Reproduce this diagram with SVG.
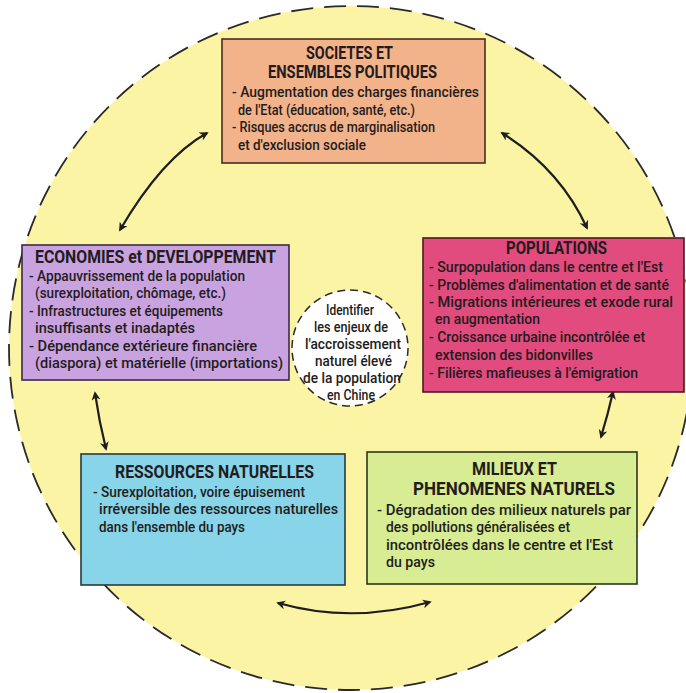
<svg xmlns="http://www.w3.org/2000/svg" width="686" height="693" viewBox="0 0 686 693">
<defs>
<style>
.t{font-family:Roboto,"Liberation Sans",sans-serif;font-size:15px;font-weight:500;fill:#231c1c}
.c{font-family:Roboto,"Liberation Sans",sans-serif;font-size:14.5px;font-weight:500;fill:#231c1c}
.h{font-family:Roboto,"Liberation Sans",sans-serif;font-size:17.5px;font-weight:700;fill:#231c1c}
.box{stroke-width:1.6}
.arr{fill:none;stroke:#1e1e1e;stroke-width:2.2;marker-start:url(#ah);marker-end:url(#ah)}
</style>
<marker id="ah" viewBox="0 0 10 10" refX="8" refY="5" markerWidth="10" markerHeight="9" markerUnits="userSpaceOnUse" orient="auto-start-reverse">
<path d="M0,0 L10,5 L0,10 L3,5 Z" fill="#1e1e1e"/>
</marker>
</defs>
<rect width="686" height="693" fill="#ffffff"/>
<circle id="background-circle" cx="351" cy="348" r="342" fill="#fbf4a4" stroke="#2a2a2a" stroke-width="1.8" stroke-dasharray="22 11"/>

<g id="connectors">
<path class="arr" d="M120,230 Q162,158 207,133"/>
<path class="arr" d="M502,133 Q560,169 587,228"/>
<path class="arr" d="M95,393 Q99,421 106,449"/>
<path class="arr" d="M613,392 Q608,414 601,437"/>
<path class="arr" d="M278,603 Q352,624 430,602"/>
</g>

<g id="societes">
<rect class="box" x="222" y="39" width="263" height="124" fill="#f2b38b" stroke="#4a2e1e"/>
<text class="h" x="306" y="59" textLength="87" lengthAdjust="spacingAndGlyphs">SOCIETES ET</text>
<text class="h" x="268" y="78" textLength="169" lengthAdjust="spacingAndGlyphs">ENSEMBLES POLITIQUES</text>
<text class="t" x="232" y="97" textLength="247" lengthAdjust="spacingAndGlyphs">- Augmentation des charges financières</text>
<text class="t" x="238" y="115" textLength="177" lengthAdjust="spacingAndGlyphs">de l'Etat (éducation, santé, etc.)</text>
<text class="t" x="232" y="132" textLength="203" lengthAdjust="spacingAndGlyphs">- Risques accrus de marginalisation</text>
<text class="t" x="238" y="150" textLength="128" lengthAdjust="spacingAndGlyphs">et d'exclusion sociale</text>
</g>

<g id="economies">
<rect class="box" x="22" y="245" width="267" height="135" fill="#c9a3e0" stroke="#3a2a4a"/>
<text class="h" x="35" y="263" textLength="241" lengthAdjust="spacingAndGlyphs">ECONOMIES et DEVELOPPEMENT</text>
<text class="t" x="29" y="281" textLength="216" lengthAdjust="spacingAndGlyphs">- Appauvrissement de la population</text>
<text class="t" x="35" y="298" textLength="191" lengthAdjust="spacingAndGlyphs">(surexploitation, chômage, etc.)</text>
<text class="t" x="29" y="316" textLength="194" lengthAdjust="spacingAndGlyphs">- Infrastructures et équipements</text>
<text class="t" x="35" y="333" textLength="160" lengthAdjust="spacingAndGlyphs">insuffisants et inadaptés</text>
<text class="t" x="29" y="351" textLength="228" lengthAdjust="spacingAndGlyphs">- Dépendance extérieure financière</text>
<text class="t" x="35" y="368" textLength="248" lengthAdjust="spacingAndGlyphs">(diaspora) et matérielle (importations)</text>
</g>

<g id="populations">
<rect class="box" x="423" y="238" width="261" height="154" fill="#e14b7e" stroke="#4a1a2a"/>
<text class="h" x="506" y="254" textLength="101" lengthAdjust="spacingAndGlyphs">POPULATIONS</text>
<text class="t" x="429" y="272" textLength="234" lengthAdjust="spacingAndGlyphs">- Surpopulation dans le centre et l'Est</text>
<text class="t" x="429" y="290" textLength="240" lengthAdjust="spacingAndGlyphs">- Problèmes d'alimentation et de santé</text>
<text class="t" x="429" y="307" textLength="244" lengthAdjust="spacingAndGlyphs">- Migrations intérieures et exode rural</text>
<text class="t" x="435" y="324" textLength="105" lengthAdjust="spacingAndGlyphs">en augmentation</text>
<text class="t" x="429" y="342" textLength="216" lengthAdjust="spacingAndGlyphs">- Croissance urbaine incontrôlée et</text>
<text class="t" x="435" y="360" textLength="158" lengthAdjust="spacingAndGlyphs">extension des bidonvilles</text>
<text class="t" x="429" y="378" textLength="209" lengthAdjust="spacingAndGlyphs">- Filières mafieuses à l'émigration</text>
</g>

<g id="ressources">
<rect class="box" x="81" y="454" width="264" height="131" fill="#88d4e8" stroke="#2a3a40"/>
<text class="h" x="115" y="478" textLength="199" lengthAdjust="spacingAndGlyphs">RESSOURCES NATURELLES</text>
<text class="t" x="93" y="497" textLength="212" lengthAdjust="spacingAndGlyphs">- Surexploitation, voire épuisement</text>
<text class="t" x="99" y="514" textLength="239" lengthAdjust="spacingAndGlyphs">irréversible des ressources naturelles</text>
<text class="t" x="99" y="532" textLength="146" lengthAdjust="spacingAndGlyphs">dans l'ensemble du pays</text>
</g>

<g id="milieux">
<rect class="box" x="367" y="452" width="270" height="132" fill="#d7ec93" stroke="#2a3a20"/>
<text class="h" x="472" y="475" textLength="85" lengthAdjust="spacingAndGlyphs">MILIEUX ET</text>
<text class="h" x="413" y="495" textLength="202" lengthAdjust="spacingAndGlyphs">PHENOMENES NATURELS</text>
<text class="t" x="377" y="515" textLength="254" lengthAdjust="spacingAndGlyphs">- Dégradation des milieux naturels par</text>
<text class="t" x="386" y="532" textLength="184" lengthAdjust="spacingAndGlyphs">des pollutions généralisées et</text>
<text class="t" x="386" y="550" textLength="227" lengthAdjust="spacingAndGlyphs">incontrôlées dans le centre et l'Est</text>
<text class="t" x="386" y="567" textLength="49" lengthAdjust="spacingAndGlyphs">du pays</text>
</g>

<g id="centre">
<circle cx="350" cy="348" r="58" fill="#ffffff" stroke="#2a2a2a" stroke-width="1.5" stroke-dasharray="8 5"/>
<text class="c" x="326" y="315" textLength="48" lengthAdjust="spacingAndGlyphs">Identifier</text>
<text class="c" x="314" y="332" textLength="74" lengthAdjust="spacingAndGlyphs">les enjeux de</text>
<text class="c" x="305" y="349" textLength="96" lengthAdjust="spacingAndGlyphs">l'accroissement</text>
<text class="c" x="315" y="366" textLength="77" lengthAdjust="spacingAndGlyphs">naturel élevé</text>
<text class="c" x="303" y="383" textLength="98" lengthAdjust="spacingAndGlyphs">de la population</text>
<text class="c" x="327" y="400" textLength="48" lengthAdjust="spacingAndGlyphs">en Chine</text>
</g>
</svg>
